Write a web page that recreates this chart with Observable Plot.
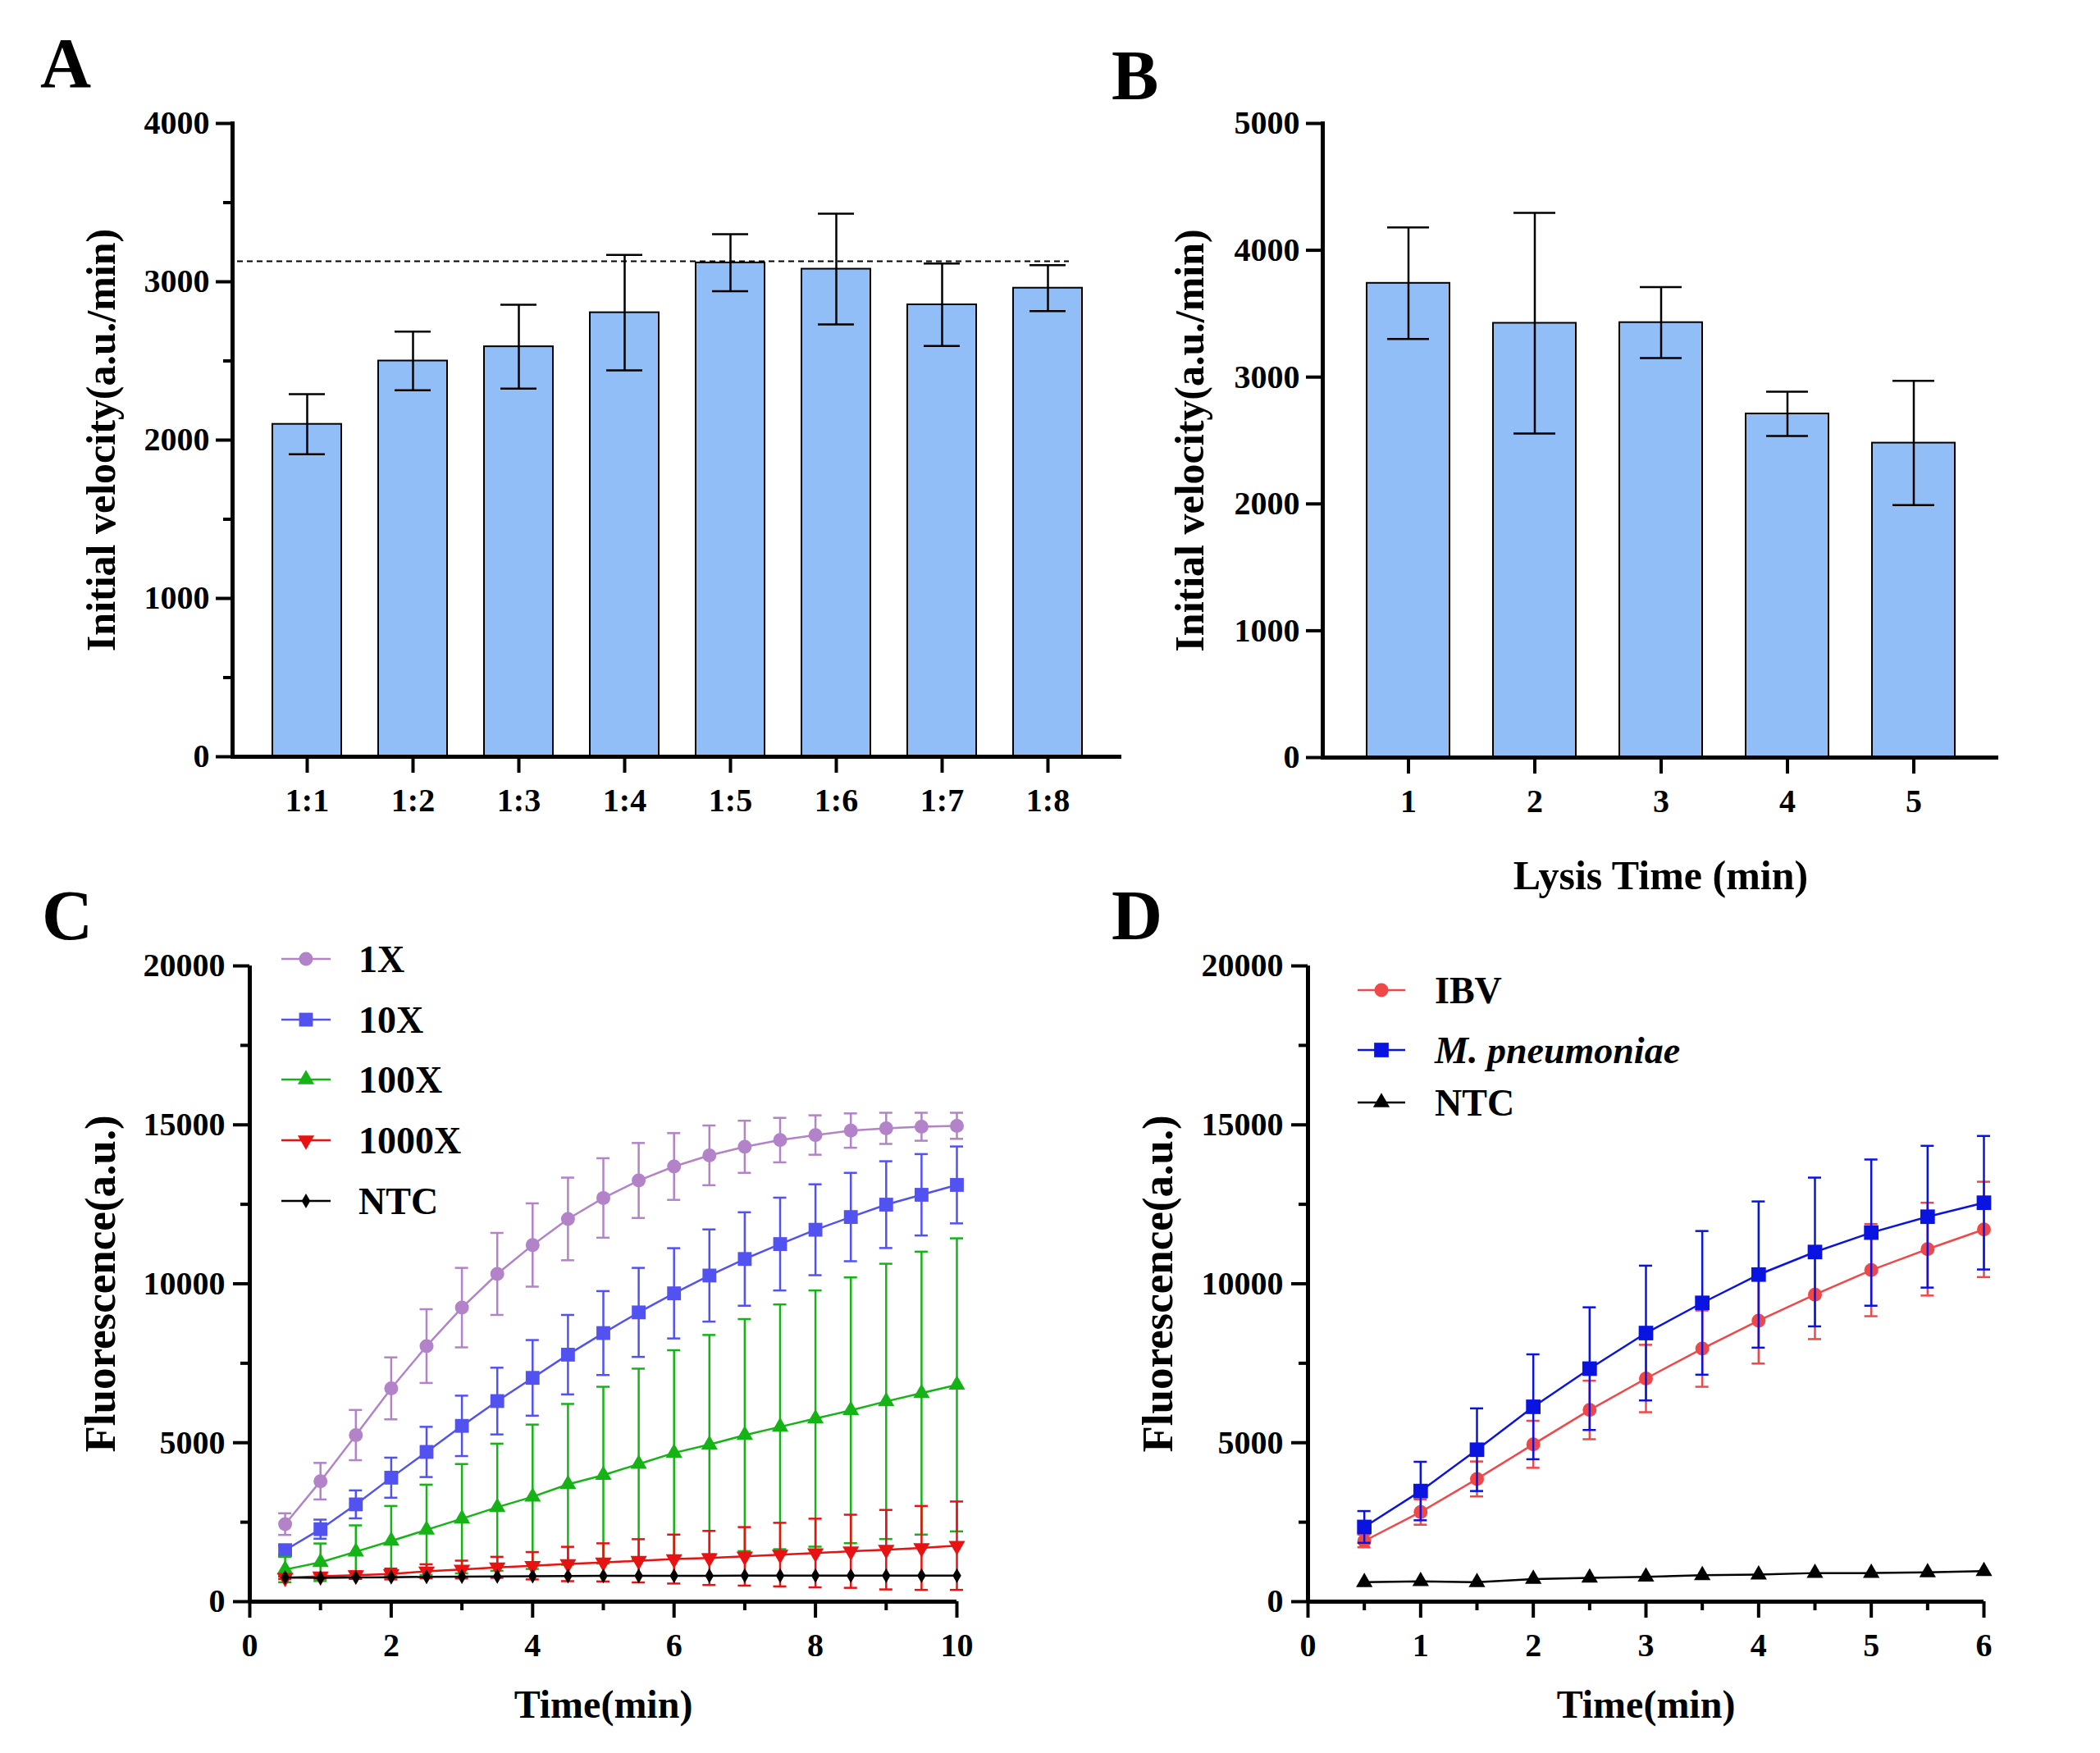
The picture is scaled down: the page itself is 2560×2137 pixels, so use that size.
<!DOCTYPE html>
<html><head><meta charset="utf-8">
<script src="https://cdn.jsdelivr.net/npm/d3@7"></script>
<script src="https://cdn.jsdelivr.net/npm/@observablehq/plot@0.6"></script>
<style>
html,body{margin:0;padding:0;background:#fff;}
#page{position:relative;width:2560px;height:2137px;overflow:hidden;background:#fff;}
#page > svg{position:absolute;margin:0;}
</style></head><body><div id="page"></div>
<script>
const FONT = '"Liberation Serif","Times New Roman",Times,serif';

// ---------- Panel A ----------
const ratios = ["1:1","1:2","1:3","1:4","1:5","1:6","1:7","1:8"];
const ratioMean = [2100, 2500, 2590, 2805, 3120, 3080, 2855, 2960];
const ratioSD = [190, 185, 265, 365, 180, 350, 260, 145];
const ratioRef = 3130;

// ---------- Panel B ----------
const lysisTimes = ["1","2","3","4","5"];
const lysisMean = [3740, 3425, 3430, 2710, 2480];
const lysisSD = [440, 870, 280, 175, 490];

// ---------- Panel C ----------
const timeC = [0.5,1,1.5,2,2.5,3,3.5,4,4.5,5,5.5,6,6.5,7,7.5,8,8.5,9,9.5,10];
const c1X = [2440,3790,5240,6710,8040,9250,10310,11220,12040,12700,13250,13690,14040,14310,14520,14680,14820,14890,14940,14970];
const c1XSD = [340,575,790,975,1160,1250,1290,1310,1300,1250,1180,1050,940,820,700,620,540,490,440,410];
const c10X = [1620,2280,3060,3900,4710,5530,6310,7040,7770,8450,9100,9700,10260,10780,11250,11700,12100,12490,12800,13110];
const c10XSD = [150,300,440,630,790,950,1050,1190,1250,1320,1400,1420,1450,1470,1460,1430,1390,1365,1280,1210];
const c100X = [1010,1240,1570,1910,2260,2610,2970,3300,3690,3980,4330,4680,4940,5240,5500,5760,6020,6300,6560,6820];
const c100XSD = [400,590,830,1100,1420,1720,2000,2270,2530,2780,3000,3230,3450,3650,3850,4030,4180,4330,4450,4610];
const c1000X = [750,800,835,870,955,1010,1080,1130,1185,1235,1285,1340,1375,1425,1480,1530,1585,1635,1690,1760];
const c1000XSD = [40,80,120,170,220,280,330,430,540,600,680,770,850,920,1000,1080,1150,1250,1320,1390];
const cNTC = [760,750,760,770,780,790,795,800,805,810,810,815,815,820,820,820,820,820,820,820];
const cNTCSD = [30,30,30,30,30,30,30,30,30,30,30,30,30,30,30,30,30,30,30,30];
const seriesC = ["1X","10X","100X","1000X","NTC"];

// ---------- Panel D ----------
const timeD = [0.5,1,1.5,2,2.5,3,3.5,4,4.5,5,5.5,6];
const dIBV = [1910,2820,3860,4950,6030,7020,7960,8840,9660,10430,11090,11710];
const dIBVSD = [200,400,550,740,920,1060,1200,1350,1400,1450,1460,1500];
const dMPN = [2350,3480,4780,6130,7330,8450,9400,10290,11000,11610,12110,12550];
const dMPNSD = [500,920,1300,1650,1930,2120,2260,2300,2340,2300,2230,2100];
const dNTC = [610,640,610,710,750,780,830,850,900,900,920,960];
const seriesD = ["IBV","M. pneumoniae","NTC"];

// custom downward triangle symbol
const triDown = {draw(ctx, size){ const y = Math.sqrt(size/(3*Math.sqrt(3))); ctx.moveTo(0, 2*y); ctx.lineTo(-Math.sqrt(3)*y, -y); ctx.lineTo(Math.sqrt(3)*y, -y); ctx.closePath(); }};

const baseStyle = {fontFamily: FONT, fontWeight: "bold", fontSize: "40px", color: "black", background: "transparent", overflow: "visible"};
const page = document.getElementById("page");
function place(svg, left, top){ svg.style.position = "absolute"; svg.style.left = left+"px"; svg.style.top = top+"px"; page.appendChild(svg); }
function yTitle(text, dx, size){ return Plot.text([text], {frameAnchor: "left", rotate: -90, dx, fontSize: size, fontWeight: "bold", textAnchor: "middle", lineAnchor: "middle"}); }
function xTitle(text, dy, size){ return Plot.text([text], {frameAnchor: "bottom", dy, fontSize: size, fontWeight: "bold", textAnchor: "middle", lineAnchor: "middle"}); }

// ---------- build A ----------
const dataA = ratios.map((r,i)=>({r, m: ratioMean[i], sd: ratioSD[i]}));
const plotA = Plot.plot({
  width: 1380, height: 1040, marginTop: 150, marginBottom: 118, marginLeft: 283, marginRight: 13,
  style: baseStyle,
  x: {domain: ratios, paddingInner: 0.35, paddingOuter: 0.345},
  y: {domain: [0, 4000]},
  marks: [
    Plot.barY(dataA, {x: "r", y: "m", fill: "#92BEF8", stroke: "black", strokeWidth: 2}),
    Plot.ruleX(dataA, {x: "r", y1: d=>d.m-d.sd, y2: d=>d.m+d.sd, stroke: "black", strokeWidth: 2.5}),
    Plot.tickY(dataA, {x: "r", y: d=>d.m+d.sd, insetLeft: 20, insetRight: 20, stroke: "black", strokeWidth: 2.5}),
    Plot.tickY(dataA, {x: "r", y: d=>d.m-d.sd, insetLeft: 20, insetRight: 20, stroke: "black", strokeWidth: 2.5}),
    Plot.ruleY([ratioRef], {strokeDasharray: "7,5", strokeWidth: 2, insetLeft: 6, insetRight: 64}),
    Plot.axisY({ticks: [0,1000,2000,3000,4000], tickSize: 20, tickPadding: 8, strokeWidth: 4, tickFormat: "d", label: null}),
    Plot.axisY({ticks: [500,1500,2500,3500], tickSize: 11, strokeWidth: 4, tickFormat: () => "", label: null}),
    Plot.axisX({tickSize: 20, tickPadding: 18, strokeWidth: 4, label: null}),
    Plot.frame({anchor: "left", strokeWidth: 5}),
    Plot.ruleY([0], {strokeWidth: 5}),
    yTitle("Initial velocity(a.u./min)", -160, 50)
  ]
});
place(plotA, 0, 0);

// ---------- build B ----------
const dataB = lysisTimes.map((t,i)=>({t, m: lysisMean[i], sd: lysisSD[i]}));
const plotB = Plot.plot({
  width: 1180, height: 1120, marginTop: 150, marginBottom: 197, marginLeft: 232, marginRight: 124,
  style: baseStyle,
  x: {domain: lysisTimes, paddingInner: 0.345, paddingOuter: 0.335},
  y: {domain: [0, 5000]},
  marks: [
    Plot.barY(dataB, {x: "t", y: "m", fill: "#92BEF8", stroke: "black", strokeWidth: 2}),
    Plot.ruleX(dataB, {x: "t", y1: d=>d.m-d.sd, y2: d=>d.m+d.sd, stroke: "black", strokeWidth: 2.5}),
    Plot.tickY(dataB, {x: "t", y: d=>d.m+d.sd, insetLeft: 25, insetRight: 25, stroke: "black", strokeWidth: 2.5}),
    Plot.tickY(dataB, {x: "t", y: d=>d.m-d.sd, insetLeft: 25, insetRight: 25, stroke: "black", strokeWidth: 2.5}),
    Plot.axisY({ticks: [0,1000,2000,3000,4000,5000], tickSize: 20, tickPadding: 8, strokeWidth: 4, tickFormat: "d", label: null}),
    Plot.axisX({tickSize: 20, tickPadding: 18, strokeWidth: 4, label: null}),
    Plot.frame({anchor: "left", strokeWidth: 5}),
    Plot.ruleY([0], {strokeWidth: 5}),
    yTitle("Initial velocity(a.u./min)", -162, 50),
    xTitle("Lysis Time (min)", 144, 50)
  ]
});
place(plotB, 1380, 0);

// ---------- helpers for line panels ----------
function seriesMarks(times, vals, sds, color, symbol, r, withErr){
  const d = times.map((t,i)=>({t, v: vals[i], sd: sds ? sds[i] : 0}));
  const m = [];
  if (withErr) {
    m.push(Plot.ruleX(d, {x: "t", y1: e=>e.v-e.sd, y2: e=>e.v+e.sd, stroke: color, strokeWidth: 2.5}));
    m.push(Plot.ruleY(d, {x1: "t", x2: "t", y: e=>e.v+e.sd, insetLeft: -8, insetRight: -8, stroke: color, strokeWidth: 2.5}));
    m.push(Plot.ruleY(d, {x1: "t", x2: "t", y: e=>e.v-e.sd, insetLeft: -8, insetRight: -8, stroke: color, strokeWidth: 2.5}));
  }
  m.push(Plot.line(d, {x: "t", y: "v", stroke: color, strokeWidth: 2.5}));
  m.push(Plot.dot(d, {x: "t", y: "v", fill: color, symbol, r}));
  return m;
}
function lineAxes(xMajor, xMinor){
  return [
    Plot.axisY({ticks: [0,5000,10000,15000,20000], tickSize: 20, tickPadding: 10, strokeWidth: 4, tickFormat: "d", label: null}),
    Plot.axisY({ticks: [2500,7500,12500,17500], tickSize: 11, strokeWidth: 4, tickFormat: () => "", label: null}),
    Plot.axisX({ticks: xMajor, tickSize: 20, tickPadding: 18, strokeWidth: 4, tickFormat: "d", label: null}),
    Plot.axisX({ticks: xMinor, tickSize: 11, strokeWidth: 4, tickFormat: () => "", label: null}),
    Plot.ruleX([0], {strokeWidth: 5}),
    Plot.ruleY([0], {strokeWidth: 5})
  ];
}

// ---------- build C ----------
const colC = ["#B283C8", "#5252F0", "#16B316", "#E81212", "#000000"];
const plotC = Plot.plot({
  width: 1380, height: 1097, marginTop: 137, marginBottom: 185, marginLeft: 304, marginRight: 214,
  style: baseStyle,
  x: {domain: [0, 10]},
  y: {domain: [0, 20000]},
  marks: [
    ...seriesMarks(timeC, c1X, c1XSD, colC[0], "circle", 8.5, true),
    ...seriesMarks(timeC, c10X, c10XSD, colC[1], "square", 9.5, true),
    ...seriesMarks(timeC, c100X, c100XSD, colC[2], "triangle", 7.5, true),
    ...seriesMarks(timeC, c1000X, c1000XSD, colC[3], triDown, 7.5, true),
    ...seriesMarks(timeC, cNTC, cNTCSD, colC[4], "diamond", 5.5, false),
    ...lineAxes([0,2,4,6,8,10], [1,3,5,7,9]),
    yTitle("Fluorescence(a.u.)", -181, 53),
    xTitle("Time(min)", 126, 48)
  ]
});
place(plotC, 0, 1040);

// ---------- build D ----------
const colD = ["#F04848", "#0A14E0", "#000000"];
const plotD = Plot.plot({
  width: 1180, height: 1097, marginTop: 137, marginBottom: 185, marginLeft: 214, marginRight: 142,
  style: baseStyle,
  x: {domain: [0, 6]},
  y: {domain: [0, 20000]},
  marks: [
    ...seriesMarks(timeD, dIBV, dIBVSD, colD[0], "circle", 8.5, true),
    ...seriesMarks(timeD, dMPN, dMPNSD, colD[1], "square", 10, true),
    ...seriesMarks(timeD, dNTC, null, colD[2], "triangle", 7.5, false),
    ...lineAxes([0,1,2,3,4,5,6], [0.5,1.5,2.5,3.5,4.5,5.5]),
    yTitle("Fluorescence(a.u.)", -182, 53),
    xTitle("Time(min)", 126, 48)
  ]
});
place(plotD, 1380, 1040);

// ---------- overlay: panel letters and legends ----------
const ov = d3.select(page).append("svg")
  .attr("width", 2560).attr("height", 2137)
  .style("position", "absolute").style("left", "0px").style("top", "0px")
  .style("pointer-events", "none").style("overflow", "visible")
  .attr("font-family", FONT).attr("font-weight", "bold");

[["A", 49, 106], ["B", 1355, 121], ["C", 51, 1145], ["D", 1355, 1145]].forEach(([t,x,y]) => {
  ov.append("text").attr("x", x).attr("y", y).attr("font-size", 86).text(t);
});

const symType = {circle: d3.symbolCircle, square: d3.symbolSquare, triangle: d3.symbolTriangle, diamond: d3.symbolDiamond};
function legend(items, x0, x1, tx, ys){
  items.forEach((it, i) => {
    const y = ys[i];
    ov.append("line").attr("x1", x0).attr("x2", x1).attr("y1", y).attr("y2", y).attr("stroke", it.color).attr("stroke-width", 2.5);
    const type = typeof it.symbol === "string" ? symType[it.symbol] : it.symbol;
    ov.append("path").attr("d", d3.symbol().type(type).size(Math.PI*it.r*it.r)())
      .attr("transform", `translate(${(x0+x1)/2},${y})`).attr("fill", it.color);
    const t = ov.append("text").attr("x", tx).attr("y", y).attr("dy", "0.34em").attr("font-size", 46);
    if (it.italic) t.attr("font-style", "italic");
    t.text(it.label);
  });
}
legend([
  {label: seriesC[0], color: colC[0], symbol: "circle", r: 8.5},
  {label: seriesC[1], color: colC[1], symbol: "square", r: 9.5},
  {label: seriesC[2], color: colC[2], symbol: "triangle", r: 7.5},
  {label: seriesC[3], color: colC[3], symbol: triDown, r: 7.5},
  {label: seriesC[4], color: colC[4], symbol: "diamond", r: 5.5}
], 343, 403, 437, [1169, 1243, 1316, 1390, 1464]);
legend([
  {label: seriesD[0], color: colD[0], symbol: "circle", r: 8.5},
  {label: seriesD[1], color: colD[1], symbol: "square", r: 10, italic: true},
  {label: seriesD[2], color: colD[2], symbol: "triangle", r: 7.5}
], 1655, 1713, 1749, [1207, 1280, 1344]);
</script>
</body></html>
